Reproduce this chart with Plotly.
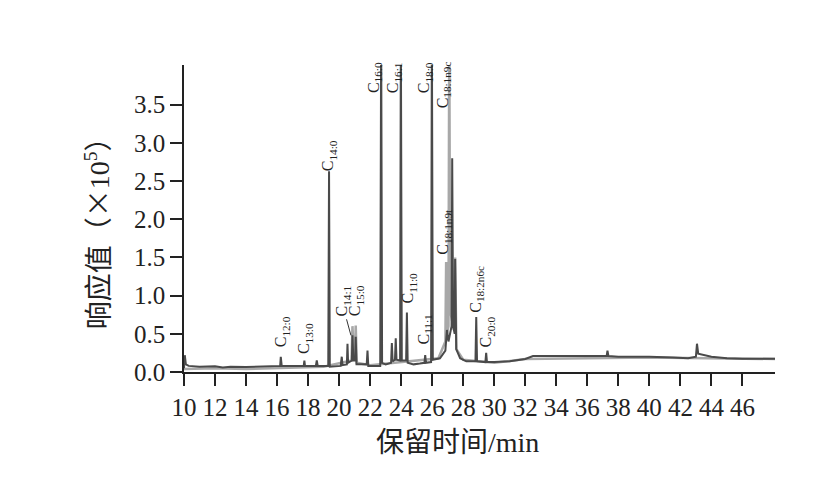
import plotly.graph_objects as go

# Dark (main) chromatogram trace: retention time (min) and response (x10^5)
dark_t = [10.00, 10.05, 10.12, 10.30, 11.0, 12.0, 12.5, 13.0, 14.0, 15.0, 16.0,
          16.20, 16.24, 16.30, 17.0, 17.72, 17.76, 17.80, 18.50, 18.56, 18.62,
          19.30, 19.35, 19.40, 20.10, 20.17, 20.22, 20.50, 20.54, 20.58,
          20.82, 20.86, 20.92, 21.03, 21.07, 21.12, 21.78, 21.83, 21.88,
          22.65, 22.71, 22.77, 23.00, 23.35, 23.40, 23.45, 23.60, 23.65, 23.70,
          23.93, 23.98, 24.04, 24.32, 24.37, 24.42, 24.80, 25.20, 25.50, 25.55, 25.60,
          25.93, 25.98, 26.04, 26.50, 26.85, 26.95, 27.05, 27.25, 27.29, 27.35,
          27.45, 27.48, 27.55, 27.80, 28.20, 28.79, 28.84, 28.89, 29.43, 29.48, 29.53,
          30.0, 31.0, 32.0, 32.5, 34.0, 36.0, 37.25, 37.30, 37.36, 38.0, 40.0,
          41.5, 42.5, 43.00, 43.07, 43.15, 43.5, 44.0, 44.5, 45.0, 46.0, 47.0, 48.1]
dark_v = [0.05, 0.22, 0.10, 0.08, 0.07, 0.075, 0.06, 0.07, 0.065, 0.07, 0.07,
          0.08, 0.20, 0.08, 0.08, 0.08, 0.15, 0.08, 0.08, 0.15, 0.08,
          0.08, 2.63, 0.07, 0.08, 0.20, 0.09, 0.10, 0.37, 0.12,
          0.15, 0.48, 0.15, 0.15, 0.46, 0.10, 0.10, 0.28, 0.08,
          0.08, 4.50, 0.12, 0.10, 0.12, 0.38, 0.14, 0.16, 0.44, 0.16,
          0.15, 4.50, 0.15, 0.15, 0.78, 0.12, 0.10, 0.11, 0.12, 0.22, 0.12,
          0.13, 4.50, 0.16, 0.18, 0.28, 0.55, 0.40, 0.60, 2.80, 0.60,
          0.50, 1.48, 0.30, 0.18, 0.14, 0.14, 0.72, 0.14, 0.13, 0.25, 0.13,
          0.13, 0.14, 0.17, 0.21, 0.21, 0.21, 0.21, 0.28, 0.21, 0.20, 0.20,
          0.19, 0.18, 0.20, 0.37, 0.24, 0.22, 0.20, 0.19, 0.18, 0.175, 0.175, 0.175]

# Light (secondary) trace
light_t = [10.0, 12.0, 14.0, 16.0, 17.0, 19.0, 20.80, 20.86, 20.95, 21.02, 21.07,
           21.14, 22.0, 26.40, 26.85, 26.90, 26.96, 27.05, 27.10, 27.16, 27.40,
           27.48, 27.56, 28.0, 30.0, 32.0, 40.0, 48.1]
light_v = [0.04, 0.05, 0.04, 0.05, 0.06, 0.07, 0.15, 0.60, 0.20, 0.20, 0.61,
           0.12, 0.09, 0.18, 0.40, 1.44, 0.50, 0.60, 4.50, 0.80, 0.55,
           1.50, 0.30, 0.16, 0.12, 0.17, 0.19, 0.17]

# Peak labels: (subscript text, label centre time, label centre response)
label_sub = ["12:0", "13:0", "14:0", "14:1", "15:0", "16:0", "16:1", "18:0",
             "18:1n9c", "11:0", "11:1", "18:1n9t", "18:2n6c", "20:0"]
label_t = [16.30, 17.78, 19.37, 20.28, 21.10, 22.32, 23.55, 25.55,
           26.73, 24.47, 25.44, 26.73, 28.84, 29.53]
label_v = [0.53, 0.44, 2.83, 0.93, 0.93, 3.85, 3.85, 3.85,
           3.76, 1.10, 0.55, 1.83, 1.08, 0.53]

x_ticks = list(range(10, 47, 2))
y_ticks = [0.0, 0.5, 1.0, 1.5, 2.0, 2.5, 3.0, 3.5]

serif = "Liberation Serif, 'Times New Roman', Noto Sans CJK SC"

fig = go.Figure()
fig.add_trace(go.Scatter(x=light_t, y=light_v, mode="lines",
                         line=dict(color="#a8a8a8", width=2.5), hoverinfo="skip"))
fig.add_trace(go.Scatter(x=dark_t, y=dark_v, mode="lines",
                         line=dict(color="#4a4a4a", width=2), hoverinfo="skip"))

for s, t, v in zip(label_sub, label_t, label_v):
    fig.add_annotation(x=t, y=v, xref="x", yref="y", text="C<sub>" + s + "</sub>",
                       showarrow=False, textangle=-90, xanchor="center", yanchor="middle",
                       font=dict(family=serif, size=16, color="#222222"))

# leader line for C14:1
fig.add_shape(type="line", x0=20.48, y0=0.69, x1=20.76, y1=0.48, xref="x", yref="y",
              line=dict(color="#333333", width=1))

# axis titles as annotations
fig.add_annotation(x=-0.147, y=0.475, xref="paper", yref="paper",
                   text="响应值（<span style='font-family:Noto Sans CJK SC'>×</span>10<sup>5</sup>）",
                   showarrow=False, textangle=-90,
                   xanchor="center", yanchor="middle",
                   font=dict(family="Liberation Serif, Noto Sans CJK SC", size=28, color="#222222"))
fig.add_annotation(x=0.463, y=-0.229, xref="paper", yref="paper",
                   text="保留时间/min", showarrow=False,
                   xanchor="center", yanchor="middle",
                   font=dict(family="Liberation Serif, Noto Sans CJK SC", size=28, color="#222222"))

# page body has an 8px margin, so the figure is offset by 8px
fig.update_layout(
    width=826, height=474,
    margin=dict(l=176, r=59, t=57, b=110),
    paper_bgcolor="white", plot_bgcolor="white",
    showlegend=False,
    xaxis=dict(range=[10, 48.1], tickmode="array", tickvals=x_ticks,
               ticktext=[str(v) for v in x_ticks],
               showline=True, linecolor="#222222", linewidth=1.5,
               ticks="outside", ticklen=12, tickwidth=1.5, tickcolor="#222222",
               showgrid=False, zeroline=False,
               tickfont=dict(family=serif, size=25, color="#222222")),
    yaxis=dict(range=[0, 4.02], tickmode="array", tickvals=y_ticks,
               ticktext=["%.1f" % v for v in y_ticks],
               showline=True, linecolor="#222222", linewidth=1.5,
               ticks="outside", ticklen=12, tickwidth=1.5, tickcolor="#222222",
               showgrid=False, zeroline=False,
               tickfont=dict(family=serif, size=25, color="#222222")),
)

fig.write_html("out.html")
